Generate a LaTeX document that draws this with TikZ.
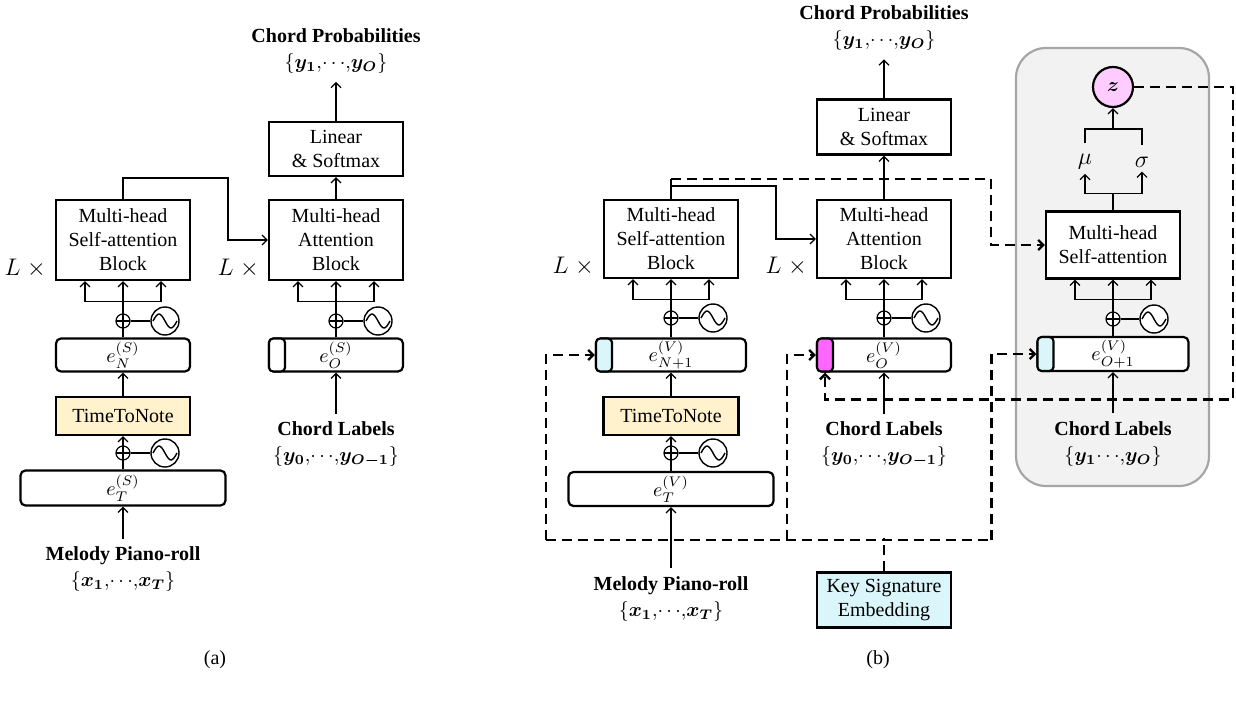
\documentclass[tikz,border=0pt]{standalone}
\usepackage{fontspec}
\setmainfont{Liberation Serif}
\usepackage{amsmath}
\usepackage{bm}
\usetikzlibrary{arrows.meta,positioning,calc}

\definecolor{ttnfill}{HTML}{FFF2CC}
\definecolor{keyfill}{HTML}{DAF6FB}
\definecolor{magfill}{HTML}{FF66FF}
\definecolor{zfill}{HTML}{FFCCFF}
\definecolor{grayfill}{HTML}{F2F2F2}
\definecolor{grayline}{HTML}{A6A6A6}

\newcommand{\setof}[2]{$\{#1{,}{\cdots}{,}#2\}$}

\tikzset{
  blk/.style={draw, fill=white, line width=1.1pt, minimum width=67pt, align=center, inner sep=1pt},
  emb/.style={draw, fill=white, line width=1.1pt, rounded corners=2.5pt, minimum height=16.5pt, inner sep=0pt},
  embtab/.style={draw, line width=1.1pt, rounded corners=2pt, minimum width=8pt, minimum height=16.5pt, inner sep=0pt, anchor=west},
  lbl/.style={align=center, inner sep=4pt},
  addc/.style={circle, draw, fill=white, line width=0.6pt, minimum size=7pt, inner sep=0pt,
    path picture={\draw[line width=0.6pt] (path picture bounding box.north) -- (path picture bounding box.south)
      (path picture bounding box.west) -- (path picture bounding box.east);}},
  sinc/.style={circle, draw, fill=white, line width=0.7pt, minimum size=14pt, inner sep=0pt,
    path picture={\draw[line width=0.7pt] ([xshift=-6pt]path picture bounding box.center)
      sin ++(3pt,3.5pt) cos ++(3pt,-3.5pt) sin ++(3pt,-3.5pt) cos ++(3pt,3.5pt);}},
  arr/.style={-{Straight Barb[length=2.5pt,width=5pt]}, line width=0.6pt},
  dline/.style={line width=1.2pt, dash pattern=on 5pt off 3pt},
  darr/.style={dline, -{Straight Barb[length=2.5pt,width=5pt]}},
  lx/.style={anchor=east, font=\large},
}

\begin{document}
\begin{tikzpicture}[x=0.5pt, y=-0.5pt]
  \useasboundingbox (0,0) rectangle (1236,701);

  % grey box of (b)
  \draw[fill=grayfill, draw=grayline, line width=1.1pt, rounded corners=15pt] (1016,48) rectangle (1209,486);

  % ---- (a) ----
  \node[blk, minimum height=40pt] (saA) at (123,240) {Multi-head\\Self-attention\\Block};
  \node[blk, minimum height=40pt] (attA) at (336,240) {Multi-head\\Attention\\Block};
  \node[blk, minimum height=27pt] (linA) at (336,149) {Linear\\\& Softmax};
  \node[lbl, above=19.5pt of linA] (probA) {\textbf{Chord Probabilities}\\[1pt]\setof{\bm{y}_{\bm{1}}}{\bm{y}_{\bm{O}}}};
  \node[lx] (lxA1) at ($(saA.south west)+(-2,-13)$) {$L\;\times$};
  \node[lx] (lxA2) at ($(attA.south west)+(-2,-13)$) {$L\;\times$};

  \node[addc] (adA1) at (123,321) {};
  \node[sinc] (snA1) at (165,321) {};
  \node[emb, minimum width=67pt] (eNA) at (123,355) {$e_N^{(S)}$};
  \node[blk, fill=ttnfill, minimum height=19pt] (ttnA) at (123,416) {TimeToNote};
  \node[addc] (adA2) at (123,453) {};
  \node[sinc] (snA2) at (165,453) {};
  \node[emb, minimum width=102.5pt, minimum height=17.5pt] (eTA) at (123,488) {$e_T^{(S)}$};
  \node[lbl, below=16pt of eTA] (melA) {\textbf{Melody Piano-roll}\\[1pt]\setof{\bm{x}_{\bm 1}}{\bm{x}_{\bm T}}};

  \node[addc] (adA3) at (336,321) {};
  \node[sinc] (snA3) at (378,321) {};
  \node[emb, minimum width=67pt] (eOA) at (336,355) {$e_O^{(S)}$};
  \node[embtab, fill=white] (eOAk) at (eOA.west) {};
  \node[lbl, below=20.5pt of eOA] (chordA) {\textbf{Chord Labels}\\[1pt]\setof{\bm{y}_{\bm 0}}{\bm{y}_{\bm{O-1}}}};

  \draw[arr] (melA.north) -- (eTA.south);
  \draw[arr] (eTA.north) -- (ttnA.south);
  \draw[arr] (ttnA.north) -- (eNA.south);
  \draw[arr] (eNA.north) -- (saA.south);
  \draw[arr] (chordA.north) -- (eOA.south);
  \draw[arr] (eOA.north) -- (attA.south);
  \draw[arr] (attA.north) -- (linA.south);
  \draw[arr] (linA.north) -- (probA.south);
  \draw[arr] (saA.north) -- ++(0,-21) -| ($(attA.west)+(-40,0)$) -- (attA.west);
  \draw[line width=0.6pt] (adA1) -- (snA1) (adA2) -- (snA2) (adA3) -- (snA3);

  \node (capA) at (215,660) {(a)};

  % ---- (b) ----
  \node[blk, minimum height=39pt] (saB) at (671,239) {Multi-head\\Self-attention\\Block};
  \node[blk, minimum height=39pt] (attB) at (884,239) {Multi-head\\Attention\\Block};
  \node[blk, minimum height=27.5pt] (linB) at (884,127) {Linear\\\& Softmax};
  \node[lbl, above=19.5pt of linB] (probB) {\textbf{Chord Probabilities}\\[1pt]\setof{\bm{y}_{\bm{1}}}{\bm{y}_{\bm{O}}}};
  \node[lx] (lxB1) at ($(saB.south west)+(-2,-13)$) {$L\;\times$};
  \node[lx] (lxB2) at ($(attB.south west)+(-2,-13)$) {$L\;\times$};

  \node[addc] (adB1) at (671,318) {};
  \node[sinc] (snB1) at (713,318) {};
  \node[emb, minimum width=75pt] (eNB) at (671,355) {$e_{N+1}^{(V)}$};
  \node[embtab, fill=keyfill] (eNBk) at (eNB.west) {};
  \node[blk, fill=ttnfill, minimum height=19pt, minimum width=67.5pt] (ttnB) at (671,416) {TimeToNote};
  \node[addc] (adB2) at (671,453) {};
  \node[sinc] (snB2) at (713,453) {};
  \node[emb, minimum width=102.5pt, minimum height=17pt] (eTB) at (671,489) {$e_T^{(V)}$};
  \node[lbl, below=30.5pt of eTB] (melB) {\textbf{Melody Piano-roll}\\[1pt]\setof{\bm{x}_{\bm 1}}{\bm{x}_{\bm T}}};

  \node[addc] (adB3) at (884,318) {};
  \node[sinc] (snB3) at (926,318) {};
  \node[emb, minimum width=67pt] (eOB) at (884,355) {$e_O^{(V)}$};
  \node[embtab, fill=magfill] (eOBk) at (eOB.west) {};
  \node[lbl, below=20.5pt of eOB] (chordB) {\textbf{Chord Labels}\\[1pt]\setof{\bm{y}_{\bm 0}}{\bm{y}_{\bm{O-1}}}};
  \node[blk, fill=keyfill, minimum height=27.5pt] (keyB) at (884,600) {Key Signature\\Embedding};

  % inside the grey box
  \node[blk, minimum height=33.5pt] (saC) at (1113,245) {Multi-head\\Self-attention};
  \node[circle, draw, fill=zfill, line width=1.1pt, minimum size=20pt, inner sep=0pt] (zC) at (1113,87) {$\bm{z}$};
  \node[inner sep=2pt, font=\large] (muC) at (1085,162) {$\mu$};
  \node[inner sep=2pt, font=\large] (sgC) at (1142,162) {$\sigma$};
  \node[addc] (adC) at (1113,319) {};
  \node[sinc] (snC) at (1154,319) {};
  \node[emb, minimum width=75.5pt, minimum height=17pt] (eOC) at (1113,354) {$e_{O+1}^{(V)}$};
  \node[embtab, fill=keyfill, minimum height=17pt] (eOCk) at (eOC.west) {};
  \node[lbl, below=20.5pt of eOC] (chordC) {\textbf{Chord Labels}\\[1pt]$\{\bm{y}_{\bm 1}{\cdots}{,}\bm{y}_{\bm O}\}$};

  \draw[arr] (melB.north) -- (eTB.south);
  \draw[arr] (eTB.north) -- (ttnB.south);
  \draw[arr] (ttnB.north) -- (eNB.south);
  \draw[arr] (eNB.north) -- (saB.south);
  \draw[arr] (chordB.north) -- (eOB.south);
  \draw[arr] (eOB.north) -- (attB.south);
  \draw[arr] (attB.north) -- (linB.south);
  \draw[arr] (linB.north) -- (probB.south);
  \draw[arr] (saB.north) -- ++(0,-13) -| ($(attB.west)+(-40,0)$) -- (attB.west);
  \draw[line width=0.6pt] (saB.north) -- ++(0,-20) coordinate (tapB);
  \draw[arr] (chordC.north) -- (eOC.south);
  \draw[arr] (eOC.north) -- (saC.south);
  \draw[line width=0.6pt] (adB1) -- (snB1) (adB2) -- (snB2) (adB3) -- (snB3) (adC) -- (snC);

  % mu / sigma and z
  \draw[line width=0.6pt] (saC.north) -- ++(0,-17) coordinate (forkC);
  \draw[arr] (forkC) -| (muC.south);
  \draw[arr] (forkC) -| (sgC.south);
  \coordinate (joinC) at ($(zC.south)+(0,21)$);
  \draw[line width=0.6pt] ($(muC.north)+(0,-7)$) |- (joinC) -| ($(sgC.north)+(0,-7)$);
  \draw[arr] (joinC) -- (zC.south);

  % fans into the blocks
  \foreach \b in {saA,attA,saB,attB,saC} {
    \draw[arr] ($(\b.south)+(0,20)$) -| ($(\b.south)+(-38,0)$);
    \draw[arr] ($(\b.south)+(0,20)$) -| ($(\b.south)+(38,0)$);
  }

  % dashed: key signature
  \draw[dline] (keyB.north) -- ++(0,-33) coordinate (kbus);
  \coordinate (kL) at ($(eNBk.west)+(-49,185)$);
  \coordinate (kM) at ($(eOBk.west)+(-29,185)$);
  \coordinate (kR) at ($(eOCk.west)+(-45,186)$);
  \draw[dline] (kL) -- (kR);
  \draw[darr] (kL) |- (eNBk.west);
  \draw[darr] (kM) |- (eOBk.west);
  \draw[darr] (kR) |- (eOCk.west);

  % dashed: encoder to grey box, z back to decoder
  \draw[darr] (tapB) -| ($(saC.west)+(-54,0)$) -- (saC.west);
  \draw[darr] (zC.east) -- ++(99,0) |- ($(eOBk.south)+(0,27)$) -- (eOBk.south);

  \node (capB) at (878,660) {(b)};
\end{tikzpicture}
\end{document}
